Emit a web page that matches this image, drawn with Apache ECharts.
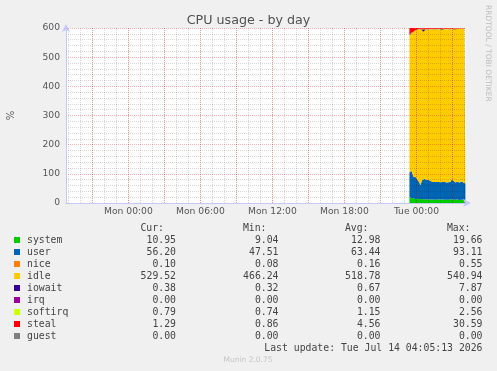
<!DOCTYPE html>
<html>
<head>
<meta charset="utf-8">
<script src="https://cdn.jsdelivr.net/npm/echarts@6/dist/echarts.min.js"></script>
<style>
html,body{margin:0;padding:0;background:#f0f0f0;}
#c{width:497px;height:371px;}
</style>
</head>
<body>
<div id="c"></div>
<script>
// ---- time axis (hours since Mon 00:00) ----
const xMin = -5.2;          // graph start (Sun ~18:48)
const xMax = 28.13;         // graph end (Tue ~04:08)
const xTickHours = [0, 6, 12, 18, 24];
const xTickLabels = ['Mon 00:00', 'Mon 06:00', 'Mon 12:00', 'Mon 18:00', 'Tue 00:00'];
const dataStartHour = 23 + 25 / 60;   // Mon 23:25
const stepHour = 5 / 60;              // 5-minute samples
const mondayMidnight = Date.UTC(2026, 6, 13, 0, 0, 0);
const HOUR_MS = 3600 * 1000;

// ---- y axis ----
const yMin = 0, yMax = 600, yStep = 100;

// ---- series ----
const seriesNames = ['system', 'user', 'nice', 'idle', 'iowait', 'irq', 'softirq', 'steal', 'guest'];
const seriesColors = ['#00CC00', '#0066B3', '#FF8000', '#FFCC00', '#330099', '#990099', '#CCFF00', '#FF0000', '#808080'];

const systemVals = [19.66, 18.2, 17.5, 16.8, 15.1, 14.6, 14.0, 13.8, 14.5, 13.9,
  13.2, 12.8, 13.5, 12.9, 12.6, 12.1, 12.4, 12.9, 12.3, 11.8,
  12.0, 12.6, 12.2, 11.7, 11.9, 12.3, 11.5, 11.2, 11.8, 12.1,
  11.6, 11.3, 11.9, 12.4, 11.8, 11.1, 11.5, 11.9, 11.4, 10.9,
  11.3, 11.7, 13.8, 12.6, 11.5, 11.2, 10.8, 11.3, 11.6, 11.0,
  10.6, 9.04, 10.9, 11.4, 11.2, 10.8, 10.95];
const userVals = [85.34, 89.8, 93.11, 83.2, 74.9, 73.4, 75.0, 72.2, 65.5, 60.1,
  56.8, 47.51, 58.5, 67.1, 69.4, 69.9, 68.6, 67.1, 67.7, 67.2,
  65.0, 63.4, 61.8, 60.3, 61.1, 59.7, 62.5, 60.8, 59.2, 59.9,
  61.4, 59.7, 58.1, 59.6, 59.2, 61.9, 59.5, 58.1, 60.6, 60.1,
  58.7, 60.3, 66.2, 72.4, 64.5, 59.8, 59.2, 60.7, 61.4, 60.0,
  59.4, 63.0, 63.1, 59.6, 58.8, 57.2, 56.20];
const niceVals = [0.55, 0.42, 0.31, 0.24, 0.2, 0.18, 0.16, 0.15, 0.17, 0.14,
  0.13, 0.12, 0.15, 0.18, 0.16, 0.14, 0.13, 0.12, 0.15, 0.14,
  0.13, 0.16, 0.15, 0.12, 0.11, 0.14, 0.13, 0.12, 0.1, 0.13,
  0.15, 0.12, 0.11, 0.14, 0.13, 0.12, 0.1, 0.11, 0.13, 0.12,
  0.11, 0.1, 0.16, 0.19, 0.14, 0.12, 0.11, 0.1, 0.09, 0.1,
  0.08, 0.11, 0.12, 0.1, 0.09, 0.1, 0.10];
const idleVals = [466.24, 468.1, 470.3, 480.15, 495.35, 500.55, 501.25, 505.85, 512.75, 519.45,
  523.85, 533.84, 521.75, 513.05, 504.58, 512.45, 513.65, 514.75, 514.25, 515.55,
  517.85, 519.05, 520.35, 522.75, 521.95, 523.25, 521.05, 522.75, 524.15, 523.35,
  522.45, 524.05, 522.65, 523.55, 524.65, 522.35, 524.45, 525.75, 523.55, 524.65,
  525.85, 523.75, 515.25, 510.45, 519.95, 525.05, 525.85, 524.15, 523.25, 525.05,
  526.35, 524.41, 522.65, 525.79, 526.55, 528.45, 529.52];
const iowaitVals = [0.9, 0.7, 0.6, 0.5, 0.45, 0.4, 0.42, 0.38, 0.5, 0.44,
  0.41, 0.39, 0.6, 1.2, 7.87, 2.1, 0.6, 0.45, 0.4, 0.38,
  0.36, 0.4, 0.42, 0.37, 0.35, 0.34, 0.38, 0.36, 0.35, 0.4,
  0.37, 0.9, 3.1, 0.8, 0.4, 0.36, 0.35, 0.34, 0.33, 0.36,
  0.35, 0.32, 0.5, 0.6, 0.4, 0.36, 0.34, 0.35, 0.33, 0.34,
  0.32, 0.35, 0.36, 0.34, 0.33, 0.35, 0.38];
const irqVals = [0, 0, 0, 0, 0, 0, 0, 0, 0, 0,
  0, 0, 0, 0, 0, 0, 0, 0, 0, 0,
  0, 0, 0, 0, 0, 0, 0, 0, 0, 0,
  0, 0, 0, 0, 0, 0, 0, 0, 0, 0,
  0, 0, 0, 0, 0, 0, 0, 0, 0, 0,
  0, 0, 0, 0, 0, 0, 0];
const softirqVals = [2.56, 2.2, 1.9, 1.6, 1.4, 1.3, 1.25, 1.2, 1.3, 1.2,
  1.1, 1.05, 1.15, 1.2, 1.1, 1.05, 1.0, 0.98, 1.02, 0.97,
  0.95, 1.0, 0.98, 0.93, 0.95, 0.92, 0.96, 0.94, 0.9, 0.93,
  0.95, 0.91, 0.9, 0.94, 0.92, 0.9, 0.88, 0.9, 0.87, 0.89,
  0.86, 0.88, 1.0, 1.1, 0.92, 0.86, 0.84, 0.85, 0.83, 0.82,
  0.8, 0.81, 0.83, 0.78, 0.76, 0.74, 0.79];
const stealVals = [30.59, 26.4, 21.8, 17.5, 12.3, 9.1, 7.4, 5.8, 4.9, 4.2,
  3.8, 3.5, 3.9, 4.6, 3.7, 3.2, 3.0, 2.9, 3.4, 3.1,
  2.8, 2.6, 3.3, 2.9, 2.7, 2.4, 2.6, 2.9, 2.5, 2.3,
  2.2, 2.6, 2.4, 2.1, 2.0, 2.3, 2.2, 1.9, 2.1, 2.0,
  1.8, 1.9, 2.4, 2.2, 1.7, 1.6, 1.8, 1.5, 1.4, 1.6,
  1.3, 1.2, 1.0, 0.86, 1.1, 1.2, 1.29];
const guestVals = [0, 0, 0, 0, 0, 0, 0, 0, 0, 0,
  0, 0, 0, 0, 0, 0, 0, 0, 0, 0,
  0, 0, 0, 0, 0, 0, 0, 0, 0, 0,
  0, 0, 0, 0, 0, 0, 0, 0, 0, 0,
  0, 0, 0, 0, 0, 0, 0, 0, 0, 0,
  0, 0, 0, 0, 0, 0, 0];

// ---- legend statistics ----
const curVals = [10.95, 56.20, 0.10, 529.52, 0.38, 0.00, 0.79, 1.29, 0.00];
const minVals = [9.04, 47.51, 0.08, 466.24, 0.32, 0.00, 0.74, 0.86, 0.00];
const avgVals = [12.98, 63.44, 0.16, 518.78, 0.67, 0.00, 1.15, 4.56, 0.00];
const maxVals = [19.66, 93.11, 0.55, 540.94, 7.87, 0.00, 2.56, 30.59, 0.00];
const statHeaders = ['Cur:', 'Min:', 'Avg:', 'Max:'];
const titleText = 'CPU usage - by day';
const yName = '%';
const lastUpdate = 'Last update: Tue Jul 14 04:05:13 2026';
const footer = 'Munin 2.0.75';
const sideText = 'RRDTOOL / TOBI OETIKER';

const seriesValues = [systemVals, userVals, niceVals, idleVals, iowaitVals, irqVals, softirqVals, stealVals, guestVals];

const chart = echarts.init(document.getElementById('c'), null, {renderer: 'canvas'});

const minorColor = 'rgba(0,0,0,0.15)';
const majorColor = 'rgba(255,0,0,0.3)';
const axisColor = '#c4c8f4';
const sans = '"DejaVu Sans"';
const mono = '"DejaVu Sans Mono"';

const toTime = h => mondayMidnight + h * HOUR_MS;

const series = seriesNames.map((name, si) => ({
  name: name,
  type: 'line',
  stack: 'cpu',
  xAxisIndex: 3,
  yAxisIndex: 0,
  symbol: 'none',
  showSymbol: false,
  lineStyle: {width: 0},
  areaStyle: {color: seriesColors[si], opacity: 1},
  itemStyle: {color: seriesColors[si]},
  z: 2,
  data: seriesValues[si].map((v, i) => [toTime(dataStartHour + i * stepHour), v])
}));

// legend graphic
const graphics = [];
const rowY0 = 240, rowStep = 12;
const colRight = [176, 278.5, 380.5, 482.5];
const headRight = [164, 266.5, 368.5, 470.5];
const legendFont = '9.8px ' + mono;
const textColor = '#444';
statHeaders.forEach((h, ci) => {
  graphics.push({type: 'text', x: headRight[ci], y: 228.5,
    style: {text: h, font: legendFont, fill: textColor, align: 'right', verticalAlign: 'middle'}});
});
const statCols = [curVals, minVals, avgVals, maxVals];
seriesNames.forEach((name, ri) => {
  const y = rowY0 + ri * rowStep;
  graphics.push({type: 'rect', shape: {x: 14, y: y - 3, width: 6, height: 6},
    style: {fill: seriesColors[ri]}});
  graphics.push({type: 'text', x: 27, y: y,
    style: {text: name, font: legendFont, fill: textColor, align: 'left', verticalAlign: 'middle'}});
  statCols.forEach((col, ci) => {
    graphics.push({type: 'text', x: colRight[ci], y: y,
      style: {text: col[ri].toFixed(2), font: legendFont, fill: textColor, align: 'right', verticalAlign: 'middle'}});
  });
});
graphics.push({type: 'text', x: 482.5, y: 348,
  style: {text: lastUpdate, font: legendFont, fill: textColor, align: 'right', verticalAlign: 'middle'}});
graphics.push({type: 'text', x: 248, y: 360,
  style: {text: footer, font: '7.5px ' + sans, fill: '#c4c4c4', align: 'center', verticalAlign: 'middle'}});
graphics.push({type: 'text', x: 487.5, y: 5, rotation: -Math.PI / 2,
  style: {text: sideText, font: '7.5px ' + sans, fill: '#bcbcbc', align: 'left', verticalAlign: 'middle'}});
graphics.push({type: 'text', x: 11, y: 115.5, rotation: Math.PI / 2,
  style: {text: yName, font: '10px ' + sans, fill: '#555', align: 'center', verticalAlign: 'middle'}});

const xCommon = {type: 'value', min: xMin, max: xMax, gridIndex: 0, position: 'bottom'};

const option = {
  backgroundColor: '#f0f0f0',
  animation: false,
  title: {
    text: titleText, left: 'center', top: 9,
    textStyle: {fontFamily: sans, fontSize: 12.7, fontWeight: 'normal', color: '#505050'}
  },
  grid: {left: 66, top: 28, width: 400, height: 175, show: true, backgroundColor: '#ffffff', borderWidth: 0, containLabel: false},
  xAxis: [
    Object.assign({}, xCommon, {
      minInterval: 1, maxInterval: 1, z: 3,
      axisLine: {show: false}, axisTick: {show: false}, axisLabel: {show: false},
      splitLine: {show: true, showMinLine: false, showMaxLine: false, lineStyle: {color: minorColor, type: 'dotted', width: 1}}
    }),
    Object.assign({}, xCommon, {
      minInterval: 3, maxInterval: 3, z: 3,
      axisLine: {show: false}, axisTick: {show: false}, axisLabel: {show: false},
      splitLine: {show: true, showMinLine: false, showMaxLine: false, lineStyle: {color: majorColor, type: 'dotted', width: 1}}
    }),
    Object.assign({}, xCommon, {
      minInterval: 6, maxInterval: 6, z: 4,
      axisLine: {show: true, onZero: false, lineStyle: {color: axisColor, width: 1}, symbol: ['none', 'arrow'], symbolSize: [6, 8], symbolOffset: [0, 5]},
      axisTick: {show: false},
      splitLine: {show: false},
      axisLabel: {
        show: true, margin: 4, color: '#555', fontFamily: sans, fontSize: 9.2,
        showMinLabel: false, showMaxLabel: false,
        formatter: function (v) {
          const k = xTickHours.findIndex(h => Math.abs(h - v) < 1e-6);
          return k >= 0 ? xTickLabels[k] : '';
        }
      }
    }),
    {
      type: 'time', min: toTime(xMin), max: toTime(xMax), gridIndex: 0, position: 'bottom', show: false,
      axisLine: {show: false}, axisTick: {show: false}, axisLabel: {show: false}, splitLine: {show: false}
    }
  ],
  yAxis: {
    type: 'value', min: yMin, max: yMax, interval: yStep, z: 3,
    axisLine: {show: true, onZero: false, lineStyle: {color: axisColor, width: 1}, symbol: ['none', 'arrow'], symbolSize: [6, 8], symbolOffset: [0, 4]},
    axisTick: {show: false},
    axisLabel: {show: true, margin: 6, color: '#555', fontFamily: sans, fontSize: 9.2},
    splitLine: {show: true, showMinLine: false, lineStyle: {color: majorColor, type: 'dotted', width: 1}},
    minorTick: {show: false, splitNumber: 5},
    minorSplitLine: {show: true, lineStyle: {color: minorColor, type: 'dotted', width: 1}}
  },
  graphic: graphics,
  series: series
};
chart.setOption(option);
</script>
</body>
</html>
